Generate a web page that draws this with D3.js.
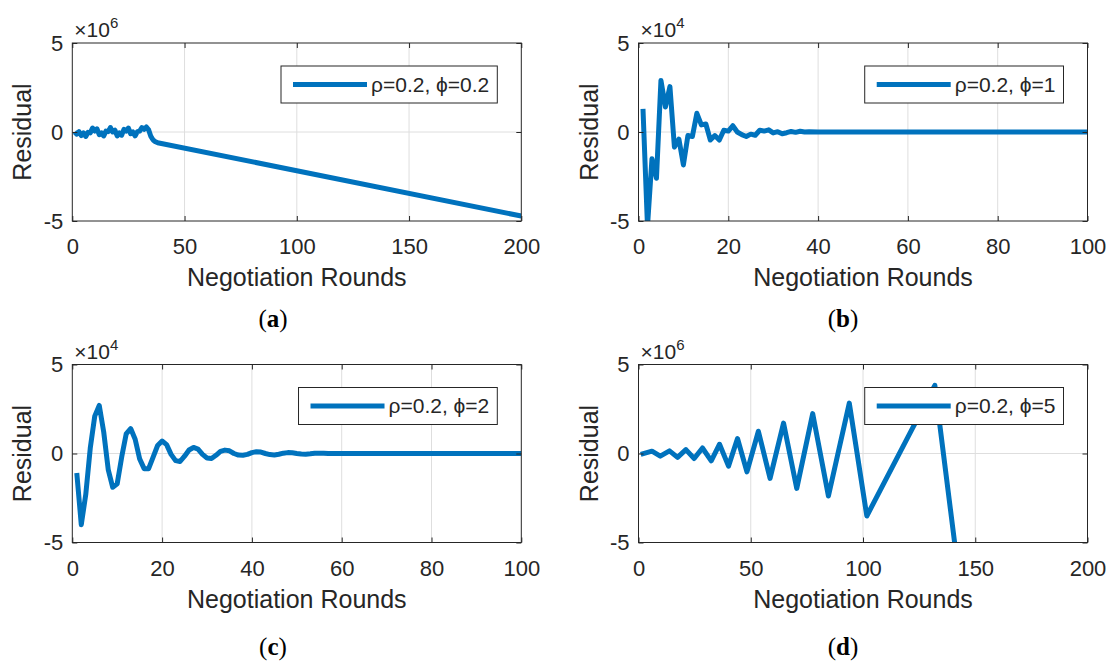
<!DOCTYPE html>
<html>
<head>
<meta charset="utf-8">
<script src="https://cdn.jsdelivr.net/npm/d3@7.9.0/dist/d3.min.js"></script>
<style>
  body { margin: 0; background: #fff; }
  svg text { font-family: "Liberation Sans", Arial, Helvetica, sans-serif; fill: #262626; }
  svg text.caption { font-family: "Liberation Serif", "Times New Roman", serif; fill: #000; }
</style>
</head>
<body>
<svg id="chart" width="1111" height="663"></svg>
<script>
// (a) rho=0.2, phi=0.2  -- residual in units of 1e6
const roundsA = [1,2,3,4,5,6,7,8,9,10,11,12,13,14,15,16,17,18,19,20,21,22,23,24,25,26,27,28,29,30,31,32,33,34,35,36,37,38,200];
const residualA = [0,-0.12,0.02,-0.2,-0.05,-0.25,-0.02,-0.05,0.22,0.05,0.18,-0.15,-0.05,-0.22,0.05,0.02,0.25,0,0.1,-0.22,-0.05,-0.18,0.15,0.05,0.22,-0.1,0,-0.22,0.02,0.05,0.25,0.15,0.28,0.12,-0.25,-0.45,-0.55,-0.6,-4.72];

// (b) rho=0.2, phi=1  -- residual in units of 1e4
const roundsB = [1,2,3,4,5,6,7,8,9,10,11,12,13,14,15,16,17,18,19,20,21,22,23,24,25,26,27,28,29,30,31,32,33,34,35,36,37,38,40,100];
const residualB = [1.3,-5.3,-1.5,-2.6,2.9,1.4,2.55,-0.85,-0.4,-1.85,-0.2,-0.25,1.05,0.4,0.45,-0.45,-0.2,-0.45,0.1,0.05,0.35,0,-0.15,-0.25,-0.12,-0.18,0.1,0.05,0.12,-0.05,0.02,-0.1,-0.04,0.03,-0.02,0.04,0,0.02,0,0];

// (c) rho=0.2, phi=2  -- residual in units of 1e4
const roundsC = [1,2,3,4,5,6,7,8,9,10,11,12,13,14,15,16,17,18,19,20,21,22,23,24,25,26,27,28,29,30,31,32,33,34,35,36,37,38,39,40,41,42,43,44,45,46,47,48,49,50,51,52,53,54,55,56,57,100];
const residualC = [-1.1,-4.0,-2.3,0.3,2.1,2.7,1.2,-0.9,-1.9,-1.7,-0.2,1.1,1.4,0.8,-0.3,-0.85,-0.85,-0.2,0.45,0.7,0.5,-0.05,-0.4,-0.45,-0.15,0.2,0.34,0.25,-0.05,-0.25,-0.28,-0.1,0.12,0.19,0.15,0,-0.09,-0.1,-0.05,0.05,0.1,0.08,0,-0.06,-0.08,-0.04,0.02,0.05,0.04,0,-0.03,-0.04,-0.02,0.01,0.02,0.01,0,0];

// (d) rho=0.2, phi=5  -- residual in units of 1e6
const roundsD = [1,6,9.7,13.8,17.4,21.1,24.8,28.5,32.4,36.1,40.1,44.1,48.3,53.4,58.6,64.6,70.5,77.6,84.6,93.9,101.7,132,142];
const residualD = [-0.05,0.13,-0.15,0.15,-0.22,0.22,-0.28,0.31,-0.41,0.52,-0.71,0.84,-1.03,1.25,-1.4,1.71,-1.96,2.24,-2.39,2.83,-3.51,3.83,-6.2];

const ticks200 = [0, 50, 100, 150, 200];
const ticks100 = [0, 20, 40, 60, 80, 100];
const yTicks = [-5, 0, 5];

const W = 449, H = 178;
const lineColor = '#0072BD';
const ink = '#262626';

const panels = [
  { key: 'a', rounds: roundsA, residual: residualA, xMax: 200, xTicks: ticks200, exponent: '6', legend: 'ρ=0.2, ϕ=0.2', left: 72.3, top: 43, capX: 273, capY: 327 },
  { key: 'b', rounds: roundsB, residual: residualB, xMax: 100, xTicks: ticks100, exponent: '4', legend: 'ρ=0.2, ϕ=1', left: 638.5, top: 43, capX: 843, capY: 327 },
  { key: 'c', rounds: roundsC, residual: residualC, xMax: 100, xTicks: ticks100, exponent: '4', legend: 'ρ=0.2, ϕ=2', left: 72.3, top: 364.5, capX: 273, capY: 655 },
  { key: 'd', rounds: roundsD, residual: residualD, xMax: 200, xTicks: ticks200, exponent: '6', legend: 'ρ=0.2, ϕ=5', left: 638.5, top: 364.5, capX: 843, capY: 655 },
];

const svg = d3.select('#chart');

panels.forEach((p) => {
  const x = d3.scaleLinear().domain([0, p.xMax]).range([0, W]);
  const y = d3.scaleLinear().domain([-5, 5]).range([H, 0]);
  const g = svg.append('g').attr('transform', `translate(${p.left},${p.top})`);

  // gridlines
  g.append('g').selectAll('line')
    .data(p.xTicks.slice(1, -1))
    .join('line')
    .attr('x1', (d) => x(d)).attr('x2', (d) => x(d))
    .attr('y1', 0).attr('y2', H)
    .attr('stroke', '#dedede').attr('stroke-width', 1);
  g.append('g').selectAll('line')
    .data(yTicks.slice(1, -1))
    .join('line')
    .attr('x1', 0).attr('x2', W)
    .attr('y1', (d) => y(d)).attr('y2', (d) => y(d))
    .attr('stroke', '#dedede').attr('stroke-width', 1);

  // data line, clipped to the axes
  const clipId = 'clip-' + p.key;
  g.append('clipPath').attr('id', clipId)
    .append('rect').attr('width', W).attr('height', H);

  const pts = p.rounds.map((r, i) => [r, p.residual[i]]);
  const line = d3.line().x((d) => x(d[0])).y((d) => y(d[1]));
  g.append('path')
    .attr('clip-path', `url(#${clipId})`)
    .attr('d', line(pts))
    .attr('fill', 'none')
    .attr('stroke', lineColor)
    .attr('stroke-width', 5)
    .attr('stroke-linejoin', 'round');

  // axes, ticks pointing inward
  const bottom = g.append('g').attr('transform', `translate(0,${H})`)
    .call(d3.axisBottom(x).tickValues(p.xTicks).tickSize(-5).tickFormat((d) => String(d)));
  bottom.selectAll('text').attr('y', 33).attr('dy', null).style('font-size', '22px');

  const left = g.append('g')
    .call(d3.axisLeft(y).tickValues(yTicks).tickSize(-5).tickPadding(9).tickFormat((d) => String(d)));
  left.selectAll('text').style('font-size', '22px');

  g.append('g').call(d3.axisTop(x).tickValues(p.xTicks).tickSize(-5).tickFormat(''));
  g.append('g').attr('transform', `translate(${W},0)`)
    .call(d3.axisRight(y).tickValues(yTicks).tickSize(-5).tickFormat(''));

  g.selectAll('.domain').remove();
  g.selectAll('.tick line').attr('stroke', ink);

  g.append('rect')
    .attr('width', W).attr('height', H)
    .attr('fill', 'none').attr('stroke', ink).attr('stroke-width', 1);

  // labels
  g.append('text')
    .attr('x', W / 2).attr('y', H + 65)
    .attr('text-anchor', 'middle')
    .style('font-size', '25px')
    .text('Negotiation Rounds');

  g.append('text')
    .attr('transform', `translate(-41,${H / 2}) rotate(-90)`)
    .attr('text-anchor', 'middle')
    .style('font-size', '25px')
    .text('Residual');

  const expo = g.append('text')
    .attr('x', 2).attr('y', -6)
    .style('font-size', '21px');
  expo.append('tspan').text('×10');
  expo.append('tspan').attr('dy', -9).style('font-size', '15px').text(p.exponent);

  // legend
  const lg = g.append('g');
  const box = lg.append('rect').attr('fill', '#fff').attr('stroke', ink).attr('stroke-width', 1);
  const lt = lg.append('text')
    .attr('x', 90).attr('y', 18.5).attr('dy', '0.35em')
    .style('font-size', '21px')
    .text(p.legend);
  const tw = lt.node().getComputedTextLength();
  const bw = 90 + tw + 8, bh = 37;
  box.attr('width', bw).attr('height', bh);
  lg.append('line')
    .attr('x1', 12).attr('x2', 86).attr('y1', bh / 2).attr('y2', bh / 2)
    .attr('stroke', lineColor).attr('stroke-width', 5);
  lg.attr('transform', `translate(${W - 24 - bw},23)`);

  // caption
  const cap = svg.append('text')
    .attr('class', 'caption')
    .attr('x', p.capX).attr('y', p.capY)
    .attr('text-anchor', 'middle')
    .style('font-size', '25px');
  cap.append('tspan').text('(');
  cap.append('tspan').style('font-weight', 'bold').text(p.key);
  cap.append('tspan').text(')');
});
</script>
</body>
</html>
